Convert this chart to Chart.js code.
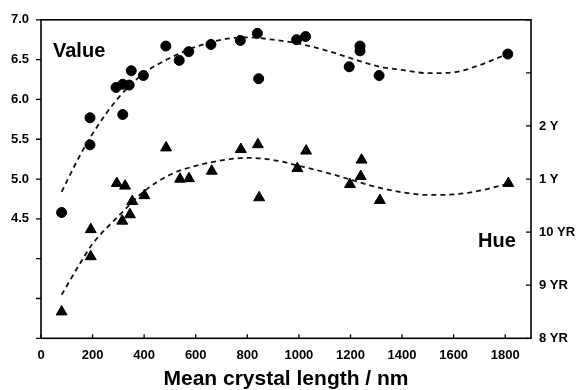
<!DOCTYPE html>
<html>
<head>
<meta charset="utf-8">
<script src="https://cdn.jsdelivr.net/npm/chart.js@4"></script>
<style>
  html, body { margin: 0; padding: 0; background: #fff; }
  #wrap { width: 583px; height: 390px; }
</style>
</head>
<body>
<div id="wrap"><canvas id="chart" width="583" height="390"></canvas></div>
<script>
// Value (circles, left axis)
const valueX = [80, 190, 190, 291, 317, 342, 317, 350, 397, 484, 536, 573, 659, 773, 839, 844, 991, 1026, 1195, 1237, 1237, 1311, 1810];
const valueY = [4.58, 5.77, 5.43, 6.15, 6.19, 6.18, 5.81, 6.36, 6.30, 6.67, 6.49, 6.60, 6.69, 6.74, 6.83, 6.26, 6.75, 6.79, 6.41, 6.67, 6.61, 6.30, 6.57];

// Hue (triangles, right axis; 8 = 8 YR ... 12 = 2 Y)
const hueX = [80, 193, 193, 294, 326, 315, 345, 354, 401, 485, 539, 574, 662, 775, 841, 846, 994, 1028, 1198, 1240, 1243, 1314, 1812];
const hueY = [8.50, 10.05, 9.54, 10.92, 10.87, 10.21, 10.33, 10.58, 10.69, 11.59, 11.00, 11.01, 11.15, 11.56, 11.65, 10.65, 11.20, 11.53, 10.90, 11.05, 11.36, 10.60, 10.92];

// dashed fitted curves
const curveX = [80, 150, 200, 300, 400, 500, 600, 700, 800, 900, 1000, 1100, 1200, 1300, 1400, 1500, 1600, 1700, 1800];
const valueCurveY = [4.84, 5.29, 5.57, 6.02, 6.33, 6.52, 6.66, 6.75, 6.78, 6.75, 6.70, 6.62, 6.52, 6.42, 6.37, 6.33, 6.34, 6.43, 6.56];
const hueCurveY = [8.82, 9.40, 9.78, 10.30, 10.77, 11.08, 11.25, 11.35, 11.40, 11.36, 11.25, 11.13, 10.99, 10.85, 10.75, 10.70, 10.71, 10.78, 10.90];

const xTicks = [0, 200, 400, 600, 800, 1000, 1200, 1400, 1600, 1800];
const valueTicks = [3.0, 3.5, 4.0, 4.5, 5.0, 5.5, 6.0, 6.5, 7.0];
const valueTickLabels = ["", "", "", "4.5", "5.0", "5.5", "6.0", "6.5", "7.0"];
const hueTicks = [8, 9, 10, 11, 12, 13, 14];
const hueTickLabels = ["8 YR", "9 YR", "10 YR", "1 Y", "2 Y", "", ""];

const FONT = "'Liberation Sans', Arial, sans-serif";

const pts = (xs, ys) => xs.map((x, i) => ({ x, y: ys[i] }));

const frame = {
  id: "frame",
  afterDraw(chart) {
    const { ctx, chartArea: a, scales } = chart;
    ctx.save();
    ctx.strokeStyle = "#000";
    ctx.lineWidth = 1.6;
    ctx.strokeRect(a.left, a.top, a.right - a.left, a.bottom - a.top);
    ctx.lineWidth = 1.3;
    ctx.beginPath();
    scales.x.ticks.forEach(t => {
      const px = scales.x.getPixelForValue(t.value);
      ctx.moveTo(px, a.bottom); ctx.lineTo(px, a.bottom - 4);
    });
    scales.yValue.ticks.forEach(t => {
      const py = scales.yValue.getPixelForValue(t.value);
      ctx.moveTo(a.left, py); ctx.lineTo(a.left - 5, py);
    });
    scales.yHue.ticks.forEach(t => {
      const py = scales.yHue.getPixelForValue(t.value);
      ctx.moveTo(a.right, py); ctx.lineTo(a.right - 5, py);
    });
    ctx.stroke();

    ctx.fillStyle = "#000";
    ctx.font = "bold 20px " + FONT;
    ctx.textBaseline = "alphabetic";
    ctx.textAlign = "left";
    ctx.fillText("Value", 53, 57);
    ctx.fillText("Hue", 478, 247);
    ctx.restore();
  }
};

new Chart(document.getElementById("chart"), {
  type: "scatter",
  data: {
    datasets: [
      {
        label: "Value fit",
        type: "line",
        data: pts(curveX, valueCurveY),
        yAxisID: "yValue",
        borderColor: "#111",
        borderWidth: 1.8,
        borderDash: [5, 4],
        pointRadius: 0,
        fill: false,
        cubicInterpolationMode: "monotone"
      },
      {
        label: "Hue fit",
        type: "line",
        data: pts(curveX, hueCurveY),
        yAxisID: "yHue",
        borderColor: "#111",
        borderWidth: 1.8,
        borderDash: [5, 4],
        pointRadius: 0,
        fill: false,
        cubicInterpolationMode: "monotone"
      },
      {
        label: "Value",
        data: pts(valueX, valueY),
        yAxisID: "yValue",
        pointStyle: "circle",
        pointRadius: 5,
        backgroundColor: "#000",
        borderColor: "#000",
        borderWidth: 1
      },
      {
        label: "Hue",
        data: pts(hueX, hueY),
        yAxisID: "yHue",
        pointStyle: "triangle",
        pointRadius: 6.3,
        backgroundColor: "#000",
        borderColor: "#000",
        borderWidth: 1
      }
    ]
  },
  options: {
    responsive: false,
    animation: false,
    layout: { padding: { left: 0, right: 0, top: 17, bottom: 0 } },
    plugins: { legend: { display: false }, tooltip: { enabled: false } },
    scales: {
      x: {
        type: "linear",
        min: 0,
        max: 1900,
        afterBuildTicks: s => { s.ticks = xTicks.map(v => ({ value: v })); },
        afterFit: s => { s.height = 51.7; },
        grid: { display: false, drawTicks: false },
        border: { display: false },
        ticks: {
          color: "#000",
          padding: 9,
          maxRotation: 0,
          autoSkip: false,
          font: { family: FONT, size: 13, weight: "bold" },
          callback: v => String(v)
        },
        title: {
          display: true,
          text: "Mean crystal length / nm",
          color: "#000",
          padding: { top: 0, bottom: 0 },
          font: { family: FONT, size: 21, weight: "bold", lineHeight: 1 }
        }
      },
      yValue: {
        type: "linear",
        position: "left",
        min: 3,
        max: 7,
        afterBuildTicks: s => { s.ticks = valueTicks.map(v => ({ value: v })); },
        afterFit: s => { s.width = 41; },
        grid: { display: false, drawTicks: false },
        border: { display: false },
        ticks: {
          color: "#000",
          padding: 12,
          autoSkip: false,
          font: { family: FONT, size: 13, weight: "bold" },
          callback: (v, i) => valueTickLabels[valueTicks.indexOf(v)] ?? ""
        }
      },
      yHue: {
        type: "linear",
        position: "right",
        min: 8,
        max: 14,
        afterBuildTicks: s => { s.ticks = hueTicks.map(v => ({ value: v })); },
        afterFit: s => { s.width = 52; },
        grid: { display: false, drawTicks: false },
        border: { display: false },
        ticks: {
          color: "#000",
          padding: 8,
          autoSkip: false,
          font: { family: FONT, size: 13, weight: "bold" },
          callback: v => hueTickLabels[hueTicks.indexOf(v)] ?? ""
        }
      }
    }
  },
  plugins: [frame]
});
</script>
</body>
</html>
